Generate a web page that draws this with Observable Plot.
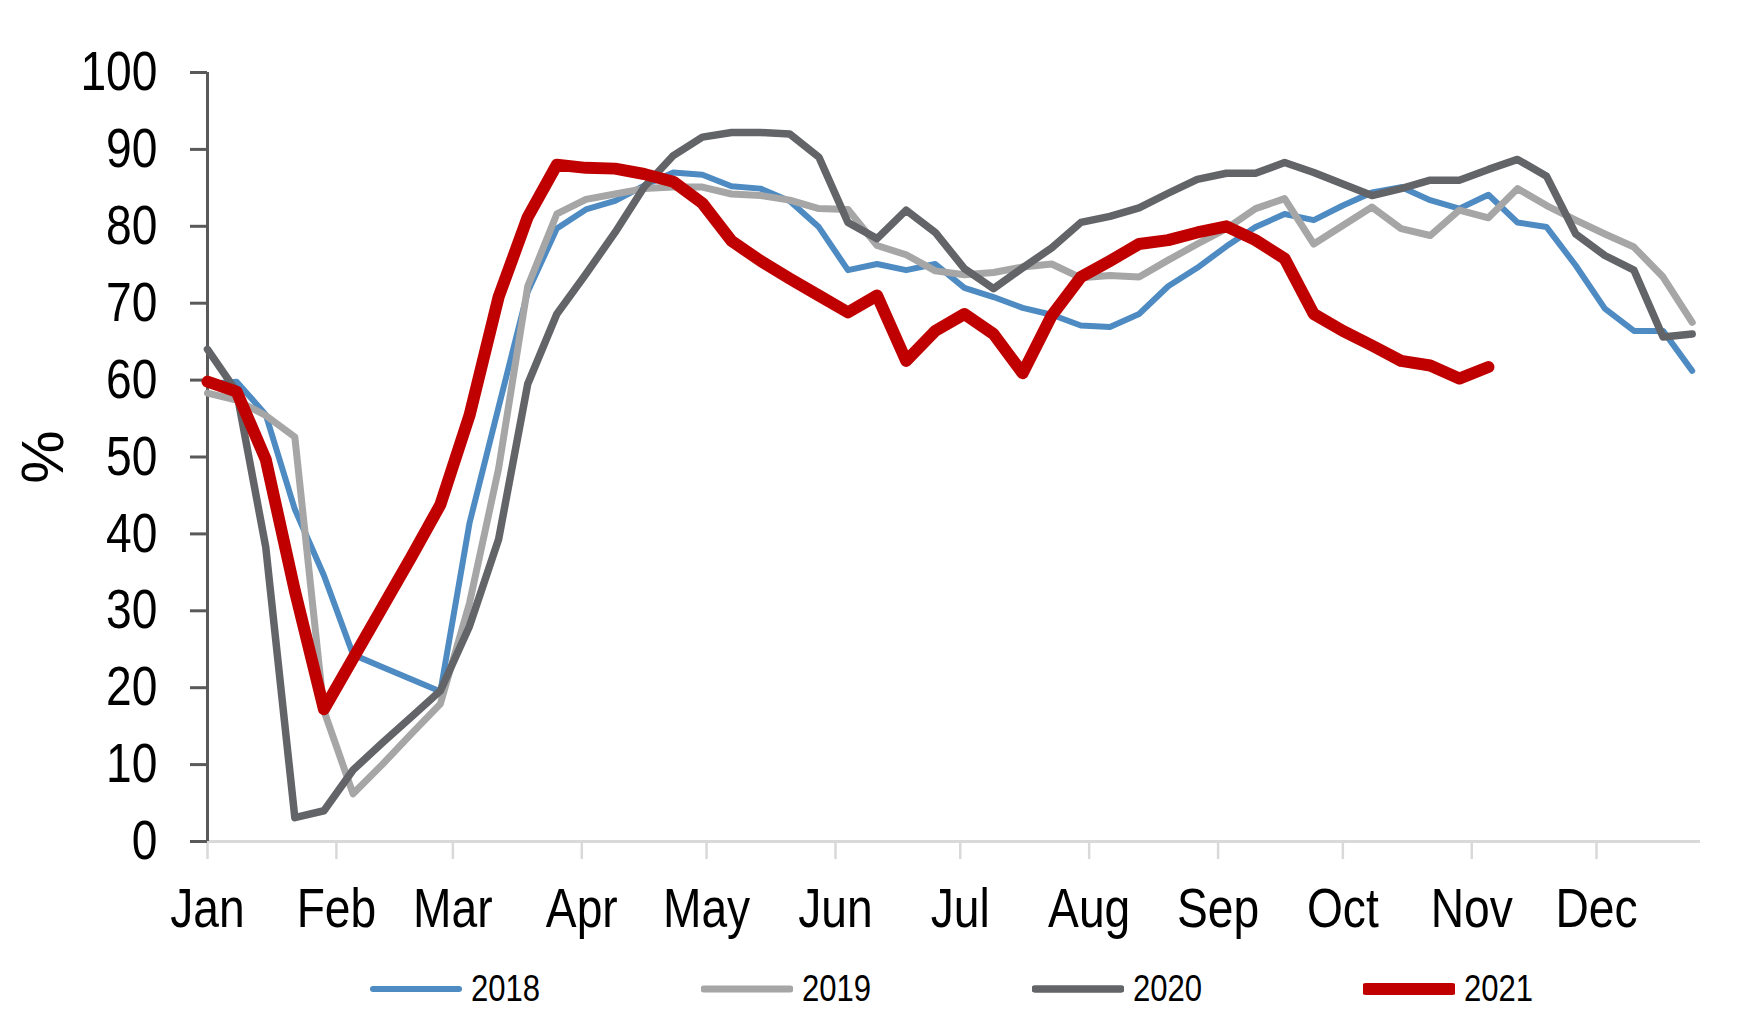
<!DOCTYPE html>
<html>
<head>
<meta charset="utf-8">
<script src="https://cdn.jsdelivr.net/npm/d3@7"></script>
<script src="https://cdn.jsdelivr.net/npm/@observablehq/plot@0.6"></script>
<style>
  html, body { margin: 0; padding: 0; background: #ffffff; }
  body { width: 1750px; height: 1035px; overflow: hidden;
         font-family: "Liberation Sans Narrow", "Arial Narrow", "Liberation Sans", Arial, sans-serif; }
  #legend { display: flex; align-items: center; height: 78px; padding-left: 370px; }
  .item { display: flex; align-items: center; width: 331px; font-size: 37px; color: #000; }
  .item svg { margin-right: 9px; }
  .item span { display: inline-block; transform: scaleX(0.84); transform-origin: left center; }
</style>
</head>
<body>
<div id="chart"></div>
<div id="legend"></div>
<script>
// ---- data ----
const years = ["2018", "2019", "2020", "2021"];
const seriesColors = ["#4E8BC2", "#A6A6A6", "#636468", "#C00000"];
const seriesWidths = [6, 7, 7.5, 12];

const monthLabels = ["Jan", "Feb", "Mar", "Apr", "May", "Jun", "Jul", "Aug", "Sep", "Oct", "Nov", "Dec"];
const monthStartDay = [0, 31, 59, 90, 120, 151, 181, 212, 243, 273, 304, 334];
const yTicks = [0, 10, 20, 30, 40, 50, 60, 70, 80, 90, 100];
const daysPerWeek = 7;

// weekly values (week 1 .. week 52), %
const s2018 = [59.5, 59.8, 55.5, 43.2, 34.6, 24.3, 22.7, 21.1, 19.5, 41.4,
               56.5, 71.5, 79.7, 82.2, 83.3, 85.3, 87.0, 86.7, 85.2, 84.9,
               83.3, 79.9, 74.3, 75.1, 74.3, 75.1, 72.0, 70.8, 69.4, 68.5,
               67.1, 66.9, 68.6, 72.2, 74.6, 77.4, 79.9, 81.6, 80.8, 82.7,
               84.4, 85.1, 83.4, 82.3, 84.1, 80.5, 79.9, 74.9, 69.3, 66.4,
               66.4, 61.2];
const s2019 = [58.3, 57.4, 55.4, 52.6, 17.0, 6.2, 10.0, 14.0, 17.9, 31.0,
               48.5, 72.2, 81.6, 83.5, 84.2, 84.9, 85.1, 85.1, 84.2, 84.0,
               83.4, 82.3, 82.2, 77.5, 76.3, 74.2, 73.7, 74.0, 74.7, 75.1,
               73.3, 73.6, 73.4, 75.6, 77.7, 79.7, 82.3, 83.6, 77.7, 80.1,
               82.5, 79.7, 78.8, 82.1, 81.1, 84.9, 82.7, 80.8, 79.0, 77.3,
               73.4, 67.5];
const s2020 = [64.0, 58.5, 38.3, 3.1, 4.0, 9.3, 12.8, 16.2, 19.6, 28.0,
               39.3, 59.5, 68.6, 73.8, 79.2, 85.1, 89.2, 91.6, 92.2, 92.2,
               92.0, 89.0, 80.5, 78.4, 82.1, 79.2, 74.5, 71.9, 74.6, 77.2,
               80.5, 81.3, 82.4, 84.3, 86.1, 86.9, 86.9, 88.3, 87.0, 85.5,
               84.0, 84.9, 86.0, 86.0, 87.4, 88.7, 86.5, 79.0, 76.2, 74.3,
               65.6, 66.0];
const s2021 = [59.8, 58.5, 49.7, 32.6, 17.2, 23.8, 30.4, 37.0, 43.8, 55.4,
               70.8, 81.2, 88.0, 87.6, 87.5, 86.8, 85.8, 83.0, 78.1, 75.5,
               73.2, 71.0, 68.8, 71.0, 62.5, 66.4, 68.6, 66.0, 60.9, 68.4,
               73.4, 75.5, 77.7, 78.2, 79.2, 80.0, 78.2, 75.8, 68.6, 66.4,
               64.5, 62.5, 61.9, 60.2, 61.7];

const seriesValues = [s2018, s2019, s2020, s2021];
const rows = seriesValues.map((vals, k) =>
  vals.map((v, i) => ({year: years[k], day: i * daysPerWeek, value: v})));

const fontStack = '"Liberation Sans Narrow", "Arial Narrow", "Liberation Sans", Arial, sans-serif';

const chart = Plot.plot({
  width: 1750,
  height: 950,
  marginLeft: 207,
  marginRight: 50,
  marginTop: 72,
  marginBottom: 109,
  style: {fontFamily: fontStack, background: "#ffffff", color: "#000000", overflow: "visible"},
  x: {domain: [0, 359], axis: null},
  y: {domain: [0, 100], axis: null},
  marks: [
    Plot.ruleY([0], {stroke: "#D9D9D9", strokeWidth: 3}),
    Plot.axisX({
      ticks: monthStartDay,
      tickFormat: (d) => monthLabels[monthStartDay.indexOf(d)],
      tickSize: 18,
      tickPadding: 28,
      stroke: "#D9D9D9",
      strokeWidth: 2.5,
      fill: "#000000",
      fontSize: 55,
      label: null
    }),
    Plot.axisY({
      ticks: yTicks,
      tickSize: 17,
      tickPadding: 33,
      stroke: "#595959",
      strokeWidth: 3,
      fill: "#000000",
      fontSize: 55,
      label: null
    }),
    Plot.axisY({
      ticks: [],
      tickSize: 0,
      fill: "#000000",
      fontSize: 60,
      label: "%",
      labelAnchor: "center",
      labelArrow: false,
      labelOffset: 187
    }),
    Plot.ruleX([0], {stroke: "#595959", strokeWidth: 3}),
    ...rows.map((r, k) => Plot.line(r, {
      x: "day",
      y: "value",
      stroke: seriesColors[k],
      strokeWidth: seriesWidths[k],
      strokeLinejoin: "round",
      strokeLinecap: "round"
    }))
  ]
});

// condense the tick labels horizontally (narrow typeface look), keeping each anchor fixed
chart.querySelectorAll("text").forEach((t) => {
  const tr = t.getAttribute("transform") || "";
  if (tr.includes("rotate")) return; // leave the rotated "%" label as is
  t.setAttribute("transform", `${tr} scale(0.84,1)`.trim());
});

document.getElementById("chart").appendChild(chart);

// legend
const legend = document.getElementById("legend");
years.forEach((y, k) => {
  const item = document.createElement("div");
  item.className = "item";
  item.innerHTML =
    `<svg width="92" height="20"><line x1="3" y1="10" x2="89" y2="10" stroke="${seriesColors[k]}" stroke-width="${seriesWidths[k]}" stroke-linecap="round"/></svg><span>${y}</span>`;
  legend.appendChild(item);
});
</script>
</body>
</html>
